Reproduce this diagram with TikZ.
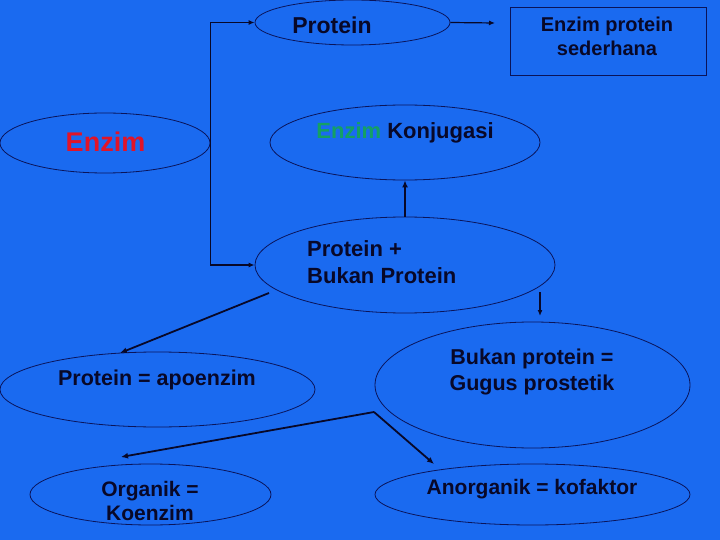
\documentclass[tikz,border=0pt]{standalone}
\usepackage{fontspec}
\setmainfont{Liberation Sans}
\usetikzlibrary{shapes.geometric,arrows.meta}
\definecolor{bg}{RGB}{26,106,240}
\definecolor{ink}{RGB}{8,8,40}
\definecolor{edge}{RGB}{10,20,90}
\definecolor{ered}{RGB}{225,20,40}
\definecolor{egreen}{RGB}{20,160,100}
\begin{document}
\begin{tikzpicture}[x=1pt,y=-1pt,
  oval/.style={ellipse,draw=edge,line width=0.8pt,inner sep=0pt},
  lbl/.style={text=ink,font=\fontsize{21.5}{26.5}\selectfont\bfseries,align=center,inner sep=0pt},
  arr/.style={draw=ink,line width=1.8pt,-{Latex[length=7pt,width=6pt]}},
  thinarr/.style={draw=ink,line width=1.2pt,-{Latex[length=6pt,width=5pt]}}]
\fill[bg] (0,0) rectangle (720,540);
\useasboundingbox (0,0) rectangle (720,540);
% nodes
\node[oval,minimum width=210pt,minimum height=60pt] (enz) at (105,143) {};
\node[lbl,text=ered,font=\fontsize{27}{30}\selectfont\bfseries] (enzt) at (105.5,142) {Enzim};
\node[oval,minimum width=195pt,minimum height=45pt] (prot) at (352.5,22.5) {};
\node[lbl,font=\fontsize{23}{26}\selectfont\bfseries] (prott) at (332,25) {Protein};
\node[draw=edge,line width=0.8pt,minimum width=196pt,minimum height=68pt,inner sep=0pt] (box) at (608,41) {};
\node[lbl,font=\fontsize{20}{24}\selectfont\bfseries] (boxt) at (607,36) {Enzim protein\\sederhana};
\node[oval,minimum width=270pt,minimum height=75pt] (konj) at (405,142.5) {};
\node[lbl,font=\fontsize{22}{26}\selectfont\bfseries] (konjt) at (405,133) {\textcolor{egreen}{Enzim} Konjugasi};
\node[oval,minimum width=300pt,minimum height=96pt] (pbp) at (405,265) {};
\node[lbl,anchor=west,align=left,font=\fontsize{22}{27}\selectfont\bfseries] (pbpt) at (307,262.5) {Protein +\\Bukan Protein};
\node[oval,minimum width=315pt,minimum height=126pt] (bp) at (532.5,385) {};
\node[lbl] (bpt) at (532,372) {Bukan protein =\\Gugus prostetik};
\node[oval,minimum width=315pt,minimum height=75pt] (apo) at (157.5,389.5) {};
\node[lbl] (apot) at (157,380) {Protein = apoenzim};
\node[oval,minimum width=241pt,minimum height=61pt] (org) at (150.5,494.5) {};
\node[lbl,font=\fontsize{21}{24}\selectfont\bfseries] (orgt) at (150,501) {Organik =\\Koenzim};
\node[oval,minimum width=315pt,minimum height=61pt] (anorg) at (532.5,494.5) {};
\node[lbl,font=\fontsize{21}{24}\selectfont\bfseries] (anorgt) at (532,489) {Anorganik = kofaktor};
% helper coordinates
\coordinate (pa) at (495,23);
\coordinate (s1) at (540,292);
\coordinate (e1) at (540,316);
\coordinate (s2) at (269,293);
\coordinate (e2) at (120,353);
\coordinate (sp) at (374,412);
\coordinate (e3) at (121,457);
\coordinate (e4) at (434,464);
% connectors
\draw[thinarr] (enz.east) |- (prot.west);
\draw[thinarr] (enz.east) |- (pbp.west);
\draw[thinarr] (prot.east) -- (pa);
\draw[arr] (pbp.north) -- (konj.south);
\draw[thinarr] (s1) -- (e1);
\draw[arr] (s2) -- (e2);
\draw[arr] (sp) -- (e3);
\draw[arr] (sp) -- (e4);
\end{tikzpicture}
\end{document}
